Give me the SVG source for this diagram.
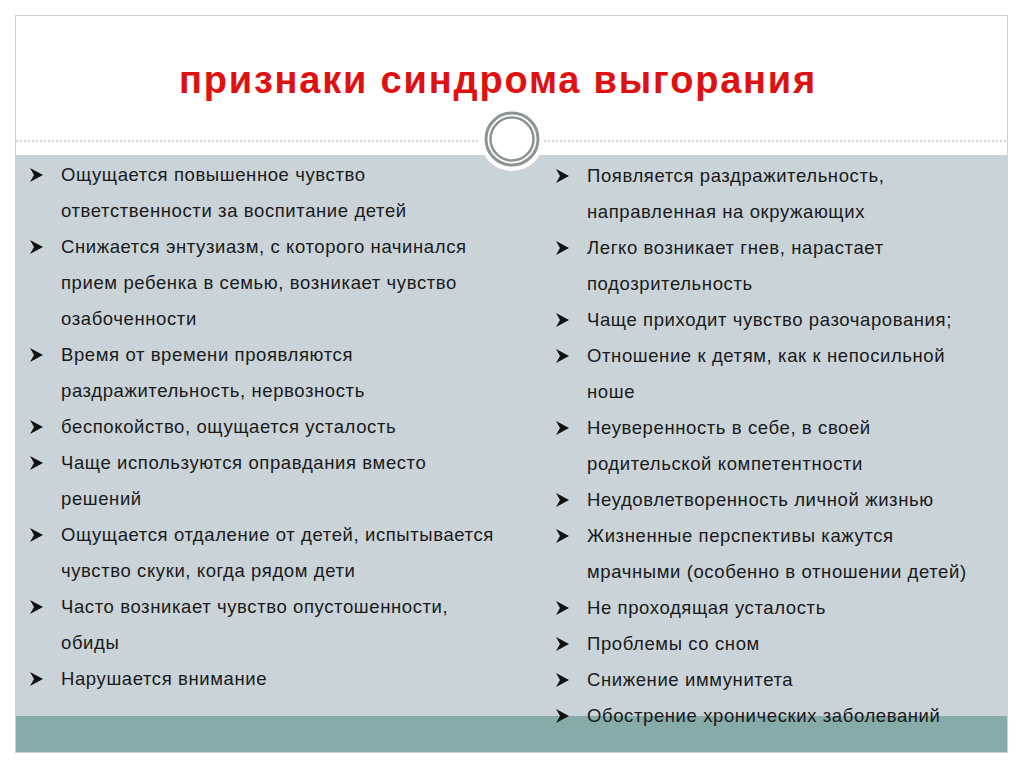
<svg xmlns="http://www.w3.org/2000/svg" width="1024" height="767" viewBox="0 0 1024 767">
<style>
text{font-family:"Liberation Sans",Arial,sans-serif;font-size:18.5px;letter-spacing:0.6px;fill:#1a1a1a}
.t{font-size:38px;letter-spacing:1.8px;font-weight:bold;fill:#e01010}
</style>
<defs><path id="b" d="M0,-7 L13,0 L0,7 L4,0 Z" fill="#111"/></defs>
<rect x="0" y="0" width="1024" height="767" fill="#fff"/>
<rect x="15.5" y="15.5" width="992" height="737" fill="#fff" stroke="#d0d0d0"/>
<rect x="16" y="155" width="991" height="561" fill="#c9d3d8"/>
<rect x="16" y="716" width="991" height="36" fill="#87aba9"/>
<line x1="16" y1="141" x2="1007" y2="141" stroke="#9aa" stroke-dasharray="2,2"/>
<text x="498" y="93" text-anchor="middle" class="t">признаки синдрома выгорания</text>
<circle cx="512" cy="139" r="32" fill="#fff"/>
<circle cx="512" cy="139" r="26" fill="none" stroke="#8a9494" stroke-width="3"/>
<circle cx="512" cy="139" r="21.5" fill="none" stroke="#8a9494" stroke-width="2.5"/>
<g>
<use href="#b" x="30" y="175"/><text x="61" y="181">Ощущается повышенное чувство</text>
<text x="61" y="217">ответственности за воспитание детей</text>
<use href="#b" x="30" y="247"/><text x="61" y="253">Снижается энтузиазм, с которого начинался</text>
<text x="61" y="289">прием ребенка в семью, возникает чувство</text>
<text x="61" y="325">озабоченности</text>
<use href="#b" x="30" y="355"/><text x="61" y="361">Время от времени проявляются</text>
<text x="61" y="397">раздражительность, нервозность</text>
<use href="#b" x="30" y="427"/><text x="61" y="433">беспокойство, ощущается усталость</text>
<use href="#b" x="30" y="463"/><text x="61" y="469">Чаще используются оправдания вместо</text>
<text x="61" y="505">решений</text>
<use href="#b" x="30" y="535"/><text x="61" y="541">Ощущается отдаление от детей, испытывается</text>
<text x="61" y="577">чувство скуки, когда рядом дети</text>
<use href="#b" x="30" y="607"/><text x="61" y="613">Часто возникает чувство опустошенности,</text>
<text x="61" y="649">обиды</text>
<use href="#b" x="30" y="679"/><text x="61" y="685">Нарушается внимание</text>
</g>
<g>
<use href="#b" x="556" y="176"/><text x="587" y="182">Появляется раздражительность,</text>
<text x="587" y="218">направленная на окружающих</text>
<use href="#b" x="556" y="248"/><text x="587" y="254">Легко возникает гнев, нарастает</text>
<text x="587" y="290">подозрительность</text>
<use href="#b" x="556" y="320"/><text x="587" y="326">Чаще приходит чувство разочарования;</text>
<use href="#b" x="556" y="356"/><text x="587" y="362"> Отношение к детям, как к непосильной</text>
<text x="587" y="398">ноше</text>
<use href="#b" x="556" y="428"/><text x="587" y="434">Неуверенность в себе, в своей</text>
<text x="587" y="470">родительской компетентности</text>
<use href="#b" x="556" y="500"/><text x="587" y="506">Неудовлетворенность личной жизнью</text>
<use href="#b" x="556" y="536"/><text x="587" y="542">Жизненные перспективы кажутся</text>
<text x="587" y="578">мрачными (особенно в отношении детей)</text>
<use href="#b" x="556" y="608"/><text x="587" y="614">Не проходящая усталость</text>
<use href="#b" x="556" y="644"/><text x="587" y="650">Проблемы со сном</text>
<use href="#b" x="556" y="680"/><text x="587" y="686">Снижение иммунитета</text>
<use href="#b" x="556" y="716"/><text x="587" y="722">Обострение хронических заболеваний</text>
</g>
</svg>
